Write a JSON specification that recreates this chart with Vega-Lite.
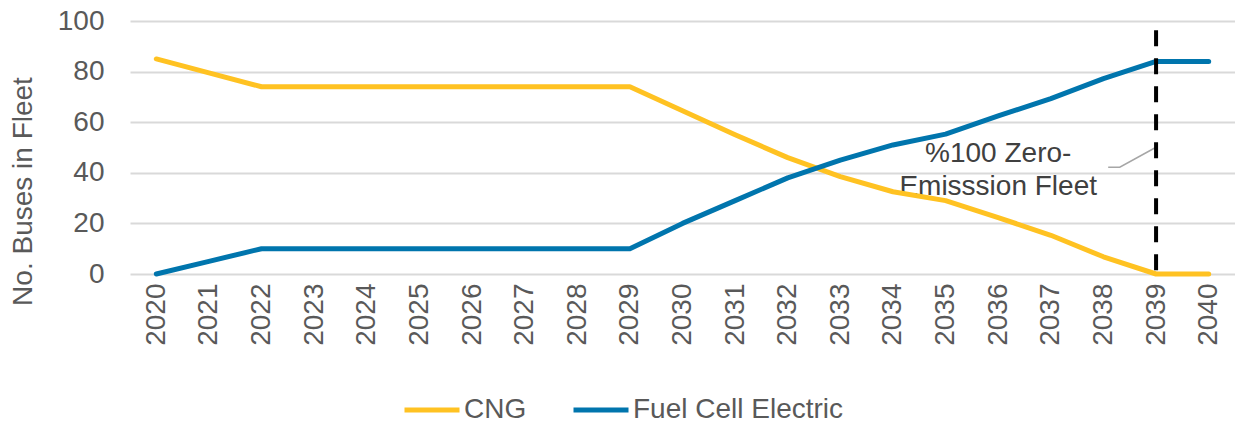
{
  "$schema": "https://vega.github.io/schema/vega-lite/v6.json",
  "width": 1105,
  "height": 253,
  "autosize": {"type": "none"},
  "padding": {"left": 130, "top": 21, "right": 0, "bottom": 149},
  "config": {
    "font": "Liberation Sans",
    "view": {"stroke": null},
    "axis": {"labelColor": "#595959", "titleColor": "#595959", "labelFont": "Liberation Sans", "titleFont": "Liberation Sans"},
    "legend": {"labelFont": "Liberation Sans", "labelColor": "#595959"}
  },
  "datasets": {
    "series": [
      {"year": 2020, "type": "CNG", "buses": 85},
      {"year": 2021, "type": "CNG", "buses": 79.5},
      {"year": 2022, "type": "CNG", "buses": 74},
      {"year": 2023, "type": "CNG", "buses": 74},
      {"year": 2024, "type": "CNG", "buses": 74},
      {"year": 2025, "type": "CNG", "buses": 74},
      {"year": 2026, "type": "CNG", "buses": 74},
      {"year": 2027, "type": "CNG", "buses": 74},
      {"year": 2028, "type": "CNG", "buses": 74},
      {"year": 2029, "type": "CNG", "buses": 74},
      {"year": 2030, "type": "CNG", "buses": 64.5},
      {"year": 2031, "type": "CNG", "buses": 55},
      {"year": 2032, "type": "CNG", "buses": 46},
      {"year": 2033, "type": "CNG", "buses": 38.5},
      {"year": 2034, "type": "CNG", "buses": 32.5},
      {"year": 2035, "type": "CNG", "buses": 29},
      {"year": 2036, "type": "CNG", "buses": 22.3},
      {"year": 2037, "type": "CNG", "buses": 15.3},
      {"year": 2038, "type": "CNG", "buses": 6.8},
      {"year": 2039, "type": "CNG", "buses": 0},
      {"year": 2040, "type": "CNG", "buses": 0},
      {"year": 2020, "type": "Fuel Cell Electric", "buses": 0},
      {"year": 2021, "type": "Fuel Cell Electric", "buses": 5},
      {"year": 2022, "type": "Fuel Cell Electric", "buses": 10},
      {"year": 2023, "type": "Fuel Cell Electric", "buses": 10},
      {"year": 2024, "type": "Fuel Cell Electric", "buses": 10},
      {"year": 2025, "type": "Fuel Cell Electric", "buses": 10},
      {"year": 2026, "type": "Fuel Cell Electric", "buses": 10},
      {"year": 2027, "type": "Fuel Cell Electric", "buses": 10},
      {"year": 2028, "type": "Fuel Cell Electric", "buses": 10},
      {"year": 2029, "type": "Fuel Cell Electric", "buses": 10},
      {"year": 2030, "type": "Fuel Cell Electric", "buses": 20},
      {"year": 2031, "type": "Fuel Cell Electric", "buses": 29},
      {"year": 2032, "type": "Fuel Cell Electric", "buses": 38},
      {"year": 2033, "type": "Fuel Cell Electric", "buses": 45},
      {"year": 2034, "type": "Fuel Cell Electric", "buses": 51},
      {"year": 2035, "type": "Fuel Cell Electric", "buses": 55.3},
      {"year": 2036, "type": "Fuel Cell Electric", "buses": 62.5},
      {"year": 2037, "type": "Fuel Cell Electric", "buses": 69.3},
      {"year": 2038, "type": "Fuel Cell Electric", "buses": 77.2},
      {"year": 2039, "type": "Fuel Cell Electric", "buses": 84},
      {"year": 2040, "type": "Fuel Cell Electric", "buses": 84}
    ],
    "target": [{"year": 2039, "top": 96.3, "bottom": 0}],
    "note": [{"year": 2036, "level": 44.1, "label": "%100 Zero-\nEmisssion Fleet"}],
    "leader": [
      {"year": 2038.09, "level": 42.2, "ord": 1},
      {"year": 2038.31, "level": 42.2, "ord": 2},
      {"year": 2039.0, "level": 50.1, "ord": 3}
    ]
  },
  "layer": [
    {
      "data": {"name": "note"},
      "mark": {"type": "text", "lineBreak": "\n", "fontSize": 28, "align": "center", "baseline": "alphabetic", "lineHeight": 33, "color": "#404040", "font": "Liberation Sans"},
      "encoding": {
        "x": {"field": "year", "type": "quantitative", "scale": {"domain": [2019.5, 2040.5], "nice": false, "zero": false},
          "axis": {"values": [2020,2021,2022,2023,2024,2025,2026,2027,2028,2029,2030,2031,2032,2033,2034,2035,2036,2037,2038,2039,2040], "format": "d", "labelAngle": -90, "labelAlign": "right", "labelBaseline": "middle", "labelFontSize": 28, "labelPadding": 9, "ticks": false, "domain": false, "grid": false, "title": null, "labelFlush": false, "labelOverlap": false}},
        "y": {"field": "level", "type": "quantitative", "scale": {"domain": [0, 100], "nice": false},
          "axis": {"values": [0,20,40,60,80,100], "labelFontSize": 28, "labelPadding": 26, "ticks": false, "domain": false, "grid": true, "gridColor": "#D9D9D9", "gridWidth": 2, "labelFlush": false, "title": "No. Buses in Fleet", "titleFontSize": 28, "titleFontWeight": "normal", "titleX": -107, "titleY": 170, "titleAngle": -90, "titleAlign": "center", "titleBaseline": "middle"}},
        "text": {"field": "label"}
      }
    },
    {
      "data": {"name": "leader"},
      "mark": {"type": "line", "stroke": "#A6A6A6", "strokeWidth": 1.5},
      "encoding": {
        "x": {"field": "year", "type": "quantitative"},
        "y": {"field": "level", "type": "quantitative"},
        "order": {"field": "ord"}
      }
    },
    {
      "data": {"name": "series"},
      "mark": {"type": "line", "strokeWidth": 5, "strokeCap": "round", "strokeJoin": "round"},
      "encoding": {
        "x": {"field": "year", "type": "quantitative"},
        "y": {"field": "buses", "type": "quantitative"},
        "color": {"field": "type", "type": "nominal",
          "scale": {"domain": ["CNG", "Fuel Cell Electric"], "range": ["#FFC222", "#0075AD"]},
          "legend": {"title": null, "orient": "none", "legendX": 272, "legendY": 359, "direction": "horizontal", "symbolType": "stroke", "symbolSize": 3025, "symbolStrokeWidth": 5, "labelFontSize": 28, "labelOffset": 2, "labelLimit": 500, "columnPadding": 36}}
      }
    },
    {
      "data": {"name": "target"},
      "mark": {"type": "rule", "color": "#000000", "strokeWidth": 4, "strokeDash": [16, 12]},
      "encoding": {
        "x": {"field": "year", "type": "quantitative"},
        "y": {"field": "top", "type": "quantitative"},
        "y2": {"field": "bottom"}
      }
    }
  ]
}
